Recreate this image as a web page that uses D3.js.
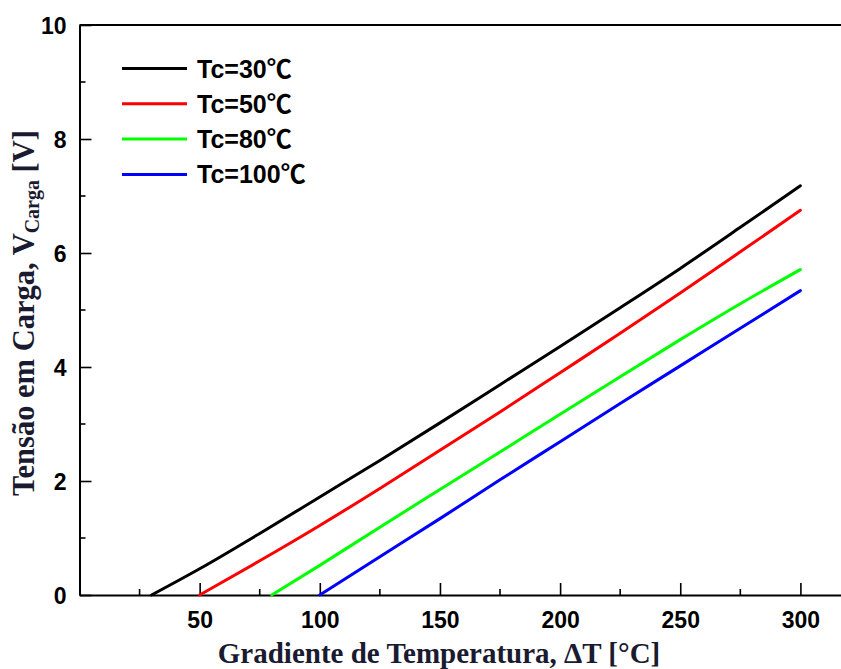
<!DOCTYPE html>
<html>
<head>
<meta charset="utf-8">
<script src="https://cdn.jsdelivr.net/npm/d3@7"></script>
<style>
  html, body { margin: 0; padding: 0; background: #fff; overflow: hidden; }
  svg { display: block; }
</style>
</head>
<body>
<svg id="chart" width="841" height="669"></svg>
<script>
// Load voltage vs. temperature gradient for four cold-side temperatures
const seriesNames = ["Tc=30℃", "Tc=50℃", "Tc=80℃", "Tc=100℃"];

const dT30  = [30, 50, 75, 100, 125, 150, 175, 200, 225, 250, 275, 300];
const v30   = [0, 0.46, 1.08, 1.72, 2.36, 3.02, 3.69, 4.36, 5.04, 5.73, 6.45, 7.18];

const dT50  = [50, 75, 100, 125, 150, 175, 200, 225, 250, 275, 300];
const v50   = [0, 0.60, 1.22, 1.87, 2.54, 3.21, 3.90, 4.59, 5.30, 6.02, 6.75];

const dT80  = [80, 100, 125, 150, 175, 200, 225, 250, 275, 300];
const v80   = [0, 0.52, 1.19, 1.85, 2.51, 3.17, 3.83, 4.48, 5.11, 5.71];

const dT100 = [100, 125, 150, 175, 200, 225, 250, 275, 300];
const v100  = [0, 0.67, 1.34, 2.02, 2.69, 3.36, 4.02, 4.68, 5.34];

const xMajorTicks = [50, 100, 150, 200, 250, 300];
const xMinorTicks = [25, 75, 125, 175, 225, 275];
const yMajorTicks = [0, 2, 4, 6, 8, 10];
const yMinorTicks = [1, 3, 5, 7, 9];

const lineColors = ["#000000", "#ff0000", "#00ff00", "#0000ff"];

const series = [
  { name: seriesNames[0], x: dT30,  y: v30 },
  { name: seriesNames[1], x: dT50,  y: v50 },
  { name: seriesNames[2], x: dT80,  y: v80 },
  { name: seriesNames[3], x: dT100, y: v100 }
];

const svg = d3.select("#chart");
const plotLeft = 79.5, plotTop = 25, plotBottom = 595;
const pxPerUnit = 2.403;

const x = d3.scaleLinear().domain([0, 320]).range([plotLeft, plotLeft + 320 * pxPerUnit]);
const y = d3.scaleLinear().domain([0, 10]).range([plotBottom, plotTop]);

const tickFont = "'Liberation Sans', Arial, sans-serif";
const titleFont = "'Liberation Serif', 'Times New Roman', serif";
const titleColor = "#1a1a30";

// frame: top edge
svg.append("line")
  .attr("x1", plotLeft).attr("x2", x(320))
  .attr("y1", plotTop).attr("y2", plotTop)
  .attr("stroke", "#000").attr("stroke-width", 2);

// bottom axis, ticks pointing inward
const xAxis = svg.append("g")
  .attr("transform", `translate(0,${plotBottom})`)
  .call(d3.axisBottom(x).tickValues(xMajorTicks).tickSizeInner(-12).tickSizeOuter(0).tickPadding(17).tickFormat(d3.format("d")));
xAxis.selectAll(".tick line").attr("stroke-width", 1.6);
xAxis.append("g").selectAll("line").data(xMinorTicks).join("line")
  .attr("x1", d => x(d)).attr("x2", d => x(d))
  .attr("y1", 0).attr("y2", -6)
  .attr("stroke", "#000").attr("stroke-width", 1.6);

// left axis, ticks pointing inward
const yAxis = svg.append("g")
  .attr("transform", `translate(${plotLeft},0)`)
  .call(d3.axisLeft(y).tickValues(yMajorTicks).tickSizeInner(-12).tickSizeOuter(0).tickPadding(13).tickFormat(d3.format("d")));
yAxis.selectAll(".tick line").attr("stroke-width", 1.6);
yAxis.append("g").selectAll("line").data(yMinorTicks).join("line")
  .attr("x1", 0).attr("x2", 6)
  .attr("y1", d => y(d)).attr("y2", d => y(d))
  .attr("stroke", "#000").attr("stroke-width", 1.6);

[xAxis, yAxis].forEach(g => {
  g.select(".domain").attr("stroke", "#000").attr("stroke-width", 2);
  g.selectAll(".tick text")
    .attr("font-family", tickFont)
    .attr("font-weight", "bold")
    .attr("font-size", 23)
    .attr("fill", "#000");
});
yAxis.selectAll(".tick text").attr("dy", "0.36em");

// curves
const line = d3.line()
  .x(d => x(d[0]))
  .y(d => y(d[1]))
  .curve(d3.curveMonotoneX);

svg.append("g").selectAll("path").data(series).join("path")
  .attr("d", s => line(s.x.map((v, i) => [v, s.y[i]])))
  .attr("fill", "none")
  .attr("stroke", (s, i) => lineColors[i])
  .attr("stroke-width", 3)
  .attr("stroke-linecap", "round");

// legend
const legend = svg.append("g");
const legendRows = legend.selectAll("g").data(series).join("g")
  .attr("transform", (s, i) => `translate(122,${68.5 + i * 35.3})`);
legendRows.append("line")
  .attr("x1", 0).attr("x2", 65)
  .attr("y1", 0).attr("y2", 0)
  .attr("stroke", (s, i) => lineColors[i])
  .attr("stroke-width", 3);
legendRows.append("text")
  .attr("x", 75).attr("y", 0)
  .attr("dy", "0.36em")
  .attr("font-family", "'Liberation Sans', Arial, 'Noto Sans CJK SC', sans-serif")
  .attr("font-weight", "bold")
  .attr("font-size", 25)
  .attr("fill", "#000")
  .text(s => s.name);

// axis titles
svg.append("text")
  .attr("x", 439).attr("y", 663)
  .attr("text-anchor", "middle")
  .attr("font-family", titleFont)
  .attr("font-weight", "bold")
  .attr("font-size", 29)
  .attr("fill", titleColor)
  .text("Gradiente de Temperatura, ΔT [°C]");

const yTitle = svg.append("text")
  .attr("transform", "translate(34,313) rotate(-90)")
  .attr("text-anchor", "middle")
  .attr("font-family", titleFont)
  .attr("font-weight", "bold")
  .attr("font-size", 30.5)
  .attr("fill", titleColor);
yTitle.append("tspan").text("Tensão em Carga, V");
yTitle.append("tspan").attr("font-size", 20).attr("dy", 5).text("Carga");
yTitle.append("tspan").attr("dy", -5).text(" [V]");
</script>
</body>
</html>
